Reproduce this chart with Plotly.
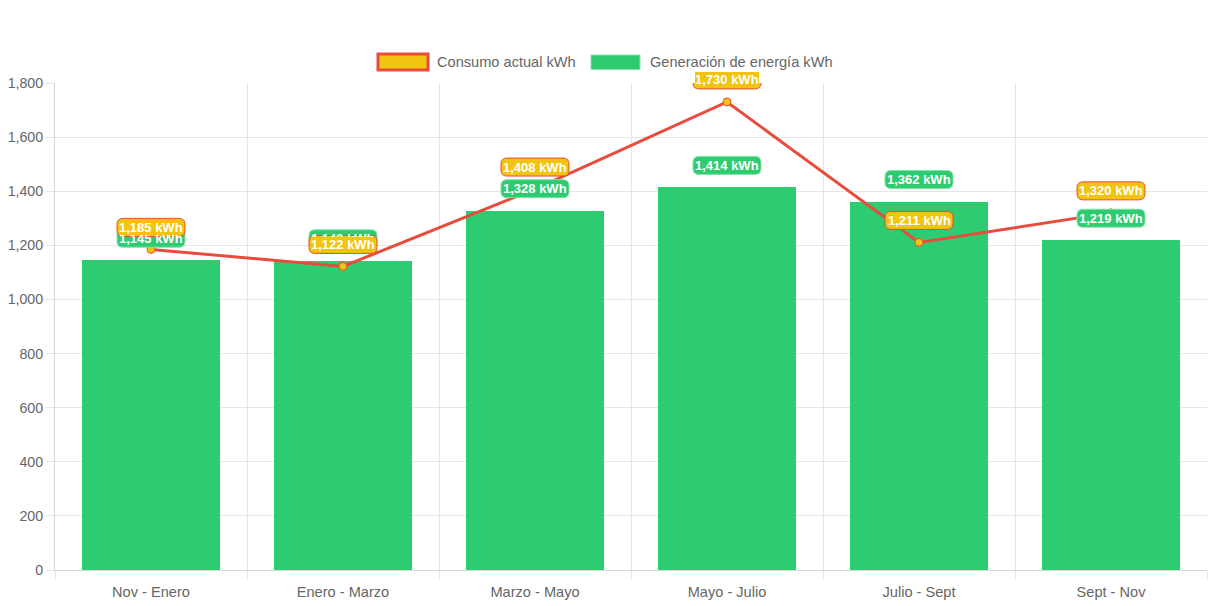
import plotly.graph_objects as go

categories = ["Nov - Enero", "Enero - Marzo", "Marzo - Mayo", "Mayo - Julio", "Julio - Sept", "Sept - Nov"]
consumo = [1185, 1122, 1408, 1730, 1211, 1320]
generacion = [1145, 1143, 1328, 1414, 1362, 1219]
series_names = ["Consumo actual kWh", "Generación de energía kWh"]

W, H = 1213, 606
ML, MR, MT, MB = 55, 6, 83, 36
PW, PH = W - ML - MR, H - MT - MB

RED = "#e74c3c"
YEL = "#f1c40f"
GRN = "#2ecc71"
GRN_BORDER = "#86e0aa"
FONT = "Arial, Liberation Sans, sans-serif"


def px_x(px):
    return (px - ML) / PW


def px_y(py):
    return (H - MB - py) / PH


idx = list(range(len(categories)))

fig = go.Figure()
fig.add_trace(go.Bar(
    x=idx, y=generacion, width=0.72,
    marker=dict(color=GRN, line=dict(width=0)),
    showlegend=False, hoverinfo="skip",
))
fig.add_trace(go.Scatter(
    x=idx, y=consumo, mode="lines+markers",
    line=dict(color=RED, width=3),
    marker=dict(size=8, color=YEL, line=dict(color=RED, width=1)),
    showlegend=False, hoverinfo="skip", cliponaxis=False,
))


def rounded_path(w, h, r, cy):
    L, R = -w / 2, w / 2
    B, T = cy - h / 2, cy + h / 2
    return (f"M{L + r},{B} H{R - r} Q{R},{B} {R},{B + r} V{T - r} Q{R},{T} {R - r},{T} "
            f"H{L + r} Q{L},{T} {L},{T - r} V{B + r} Q{L},{B} {L + r},{B} Z")


OFF = 22
BOXW, BOXH, RAD = 68, 18, 6
shapes = []
annotations = []

# green label boxes
for i, v in zip(idx, generacion):
    shapes.append(dict(type="path", xref="x", yref="y", xsizemode="pixel", ysizemode="pixel",
                       xanchor=i, yanchor=v, path=rounded_path(BOXW, BOXH, RAD, OFF),
                       fillcolor=GRN, line=dict(color=GRN_BORDER, width=1), layer="above"))
# yellow label boxes
for i, v in zip(idx, consumo):
    shapes.append(dict(type="path", xref="x", yref="y", xsizemode="pixel", ysizemode="pixel",
                       xanchor=i, yanchor=v, path=rounded_path(BOXW, BOXH, RAD, OFF),
                       fillcolor=YEL, line=dict(color=RED, width=1), layer="above"))

for i, v in zip(idx, generacion):
    annotations.append(dict(x=i, y=v, xref="x", yref="y", yshift=OFF, showarrow=False,
                            text=f"<b>{v:,} kWh</b>", font=dict(family=FONT, size=13, color="white"),
                            xanchor="center", yanchor="middle"))
for i, v in zip(idx, consumo):
    annotations.append(dict(x=i, y=v, xref="x", yref="y", yshift=OFF, showarrow=False,
                            text=f"<b>{v:,} kWh</b>", font=dict(family=FONT, size=13, color="white"),
                            bgcolor=YEL, borderpad=0, borderwidth=0,
                            xanchor="center", yanchor="middle"))

# legend (manual, Chart.js style)
shapes.append(dict(type="rect", xref="paper", yref="paper",
                   x0=px_x(378), x1=px_x(428), y0=px_y(70), y1=px_y(54),
                   fillcolor=YEL, line=dict(color=RED, width=3), layer="above"))
shapes.append(dict(type="rect", xref="paper", yref="paper",
                   x0=px_x(591), x1=px_x(640), y0=px_y(69.5), y1=px_y(55),
                   fillcolor=GRN, line=dict(color=GRN_BORDER, width=1), layer="above"))
annotations.append(dict(x=px_x(435), y=px_y(62), xref="paper", yref="paper", showarrow=False,
                        text=series_names[0], xanchor="left", yanchor="middle",
                        font=dict(family=FONT, size=14.6, color="#666666")))
annotations.append(dict(x=px_x(648), y=px_y(62), xref="paper", yref="paper", showarrow=False,
                        text=series_names[1], xanchor="left", yanchor="middle",
                        font=dict(family=FONT, size=14.6, color="#666666")))

fig.update_layout(
    width=W, height=H,
    margin=dict(l=ML, r=MR, t=MT, b=MB, autoexpand=False),
    paper_bgcolor="white", plot_bgcolor="white",
    showlegend=False,
    shapes=shapes, annotations=annotations,
    font=dict(family=FONT, size=14, color="#666666"),
    bargap=0,
)
fig.update_xaxes(
    type="linear", range=[-0.5, 5.5],
    tickmode="array", tickvals=idx, ticktext=categories,
    showgrid=False, ticks="", ticklabelstandoff=8,
    minor=dict(tickmode="array", tickvals=[i - 0.5 for i in range(len(categories) + 1)],
               showgrid=True, gridcolor="#e5e5e5", gridwidth=1,
               ticks="outside", ticklen=8, tickcolor="#e5e5e5"),
    showline=True, linecolor="#d6d6d6", linewidth=1,
    tickfont=dict(family=FONT, size=14.6, color="#666666"),
    zeroline=False, fixedrange=True,
)
fig.update_yaxes(
    range=[0, 1800], dtick=200, tickformat=",",
    showgrid=True, gridcolor="#e5e5e5", gridwidth=1,
    ticks="outside", ticklen=8, tickcolor="#e5e5e5",
    showline=True, linecolor="#d6d6d6", linewidth=1,
    zeroline=False,
    tickfont=dict(family=FONT, size=14.2, color="#666666"),
)

fig.write_html("out.html", config={"displayModeBar": False},
               post_script="document.body.style.margin='0';document.body.style.padding='0';")
